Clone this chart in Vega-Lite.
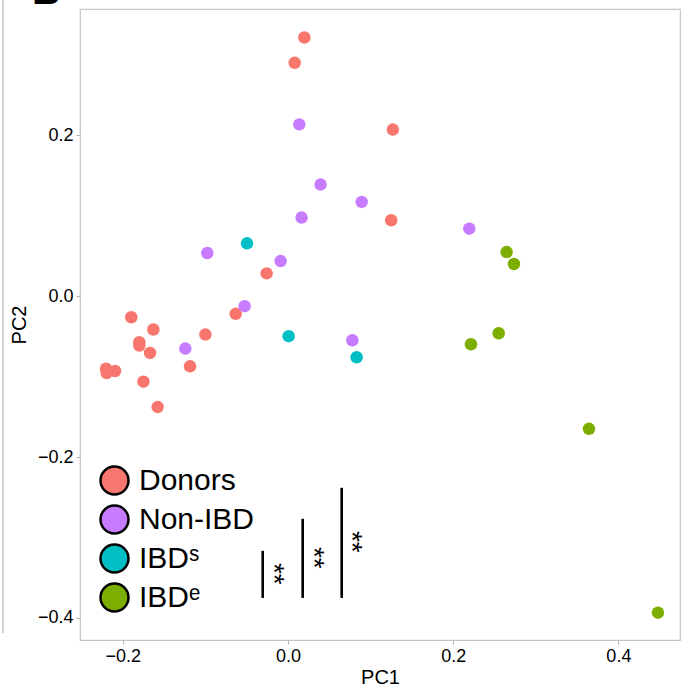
{
  "$schema": "https://vega.github.io/schema/vega-lite/v6.json",
  "width": 600,
  "height": 631,
  "autosize": {"type": "none"},
  "padding": {"left": 80, "top": 9, "right": 4, "bottom": 48},
  "background": "white",
  "config": {
    "view": {"stroke": "#c4c4c4", "strokeWidth": 1.2},
    "font": "Liberation Sans",
    "axis": {
      "domain": false,
      "grid": false,
      "tickColor": "#b0b0b0",
      "tickSize": 4,
      "labelColor": "black",
      "labelFontSize": 18,
      "labelFont": "Liberation Sans",
      "titleFont": "Liberation Sans",
      "titleFontSize": 20,
      "titleFontWeight": "normal",
      "titleColor": "black"
    }
  },
  "datasets": {
    "points": [
      {"group": "Donors", "PC1": 0.0198, "PC2": 0.3215},
      {"group": "Donors", "PC1": 0.0081, "PC2": 0.290},
      {"group": "Donors", "PC1": 0.127, "PC2": 0.207},
      {"group": "Donors", "PC1": 0.125, "PC2": 0.0943},
      {"group": "Donors", "PC1": -0.0258, "PC2": 0.0283},
      {"group": "Donors", "PC1": -0.0633, "PC2": -0.0220},
      {"group": "Donors", "PC1": -0.1897, "PC2": -0.0262},
      {"group": "Donors", "PC1": -0.163, "PC2": -0.0415},
      {"group": "Donors", "PC1": -0.100, "PC2": -0.0477},
      {"group": "Donors", "PC1": -0.180, "PC2": -0.0573},
      {"group": "Donors", "PC1": -0.180, "PC2": -0.0615},
      {"group": "Donors", "PC1": -0.167, "PC2": -0.0706},
      {"group": "Donors", "PC1": -0.1186, "PC2": -0.0872},
      {"group": "Donors", "PC1": -0.2203, "PC2": -0.0901},
      {"group": "Donors", "PC1": -0.2195, "PC2": -0.0955},
      {"group": "Donors", "PC1": -0.2094, "PC2": -0.0930},
      {"group": "Donors", "PC1": -0.175, "PC2": -0.1063},
      {"group": "Donors", "PC1": -0.1578, "PC2": -0.1379},
      {"group": "Non-IBD", "PC1": 0.0137, "PC2": 0.2135},
      {"group": "Non-IBD", "PC1": 0.0395, "PC2": 0.1387},
      {"group": "Non-IBD", "PC1": 0.0892, "PC2": 0.1171},
      {"group": "Non-IBD", "PC1": 0.0165, "PC2": 0.0976},
      {"group": "Non-IBD", "PC1": 0.2195, "PC2": 0.0839},
      {"group": "Non-IBD", "PC1": -0.0977, "PC2": 0.0536},
      {"group": "Non-IBD", "PC1": -0.0089, "PC2": 0.0436},
      {"group": "Non-IBD", "PC1": -0.0525, "PC2": -0.0125},
      {"group": "Non-IBD", "PC1": -0.1243, "PC2": -0.0652},
      {"group": "Non-IBD", "PC1": 0.0779, "PC2": -0.0548},
      {"group": "IBDs", "PC1": -0.0496, "PC2": 0.0656},
      {"group": "IBDs", "PC1": 0.0008, "PC2": -0.0498},
      {"group": "IBDs", "PC1": 0.0831, "PC2": -0.0760},
      {"group": "IBDe", "PC1": 0.2215, "PC2": -0.0598},
      {"group": "IBDe", "PC1": 0.2647, "PC2": 0.0548},
      {"group": "IBDe", "PC1": 0.2736, "PC2": 0.0399},
      {"group": "IBDe", "PC1": 0.2551, "PC2": -0.0461},
      {"group": "IBDe", "PC1": 0.3644, "PC2": -0.1649},
      {"group": "IBDe", "PC1": 0.4479, "PC2": -0.3934}
    ],
    "bars": [
      {"PC1": -0.0306, "PC2": -0.3166, "PC2end": -0.3751},
      {"PC1": 0.0178, "PC2": -0.2768, "PC2end": -0.3751},
      {"PC1": 0.0650, "PC2": -0.2382, "PC2end": -0.3751}
    ],
    "stars": [
      {"PC1": -0.0185, "PC2": -0.3452, "label": "**"},
      {"PC1": 0.0299, "PC2": -0.3253, "label": "**"},
      {"PC1": 0.0758, "PC2": -0.3054, "label": "**"}
    ],
    "panelLetter": [
      {"PC1": -0.2925, "PC2": 0.3631, "label": "B"}
    ],
    "otherPanel": [
      {"PC1": -0.3451, "PC2": 0.40, "PC2end": -0.4187}
    ]
  },
  "layer": [
    {
      "data": {"name": "points"},
      "mark": {"type": "circle", "size": 156, "opacity": 1},
      "encoding": {
        "x": {
          "field": "PC1", "type": "quantitative", "title": "PC1",
          "scale": {"domain": [-0.2518, 0.4746], "nice": false, "zero": false},
          "axis": {"values": [-0.2, 0, 0.2, 0.4], "format": ".1f", "labelPadding": 3, "titlePadding": 2}
        },
        "y": {
          "field": "PC2", "type": "quantitative", "title": "PC2",
          "scale": {"domain": [-0.4274, 0.3569], "nice": false, "zero": false},
          "axis": {"values": [-0.4, -0.2, 0, 0.2], "format": ".1f", "labelPadding": 3, "titlePadding": 8}
        },
        "color": {
          "field": "group", "type": "nominal",
          "scale": {"domain": ["Donors", "Non-IBD", "IBDs", "IBDe"], "range": ["#F8766D", "#C77CFF", "#00BFC4", "#7CAE00"]},
          "legend": {
            "orient": "none", "legendX": 19, "legendY": 456, "title": null,
            "symbolType": "circle", "symbolSize": 784, "symbolStrokeColor": "black",
            "symbolStrokeWidth": 2.5, "symbolOpacity": 1,
            "labelFontSize": 30, "labelFont": "Liberation Sans", "labelColor": "black",
            "labelOffset": 9, "rowPadding": 0, "labelLimit": 300, "padding": 0,
            "labelExpr": "datum.label == 'IBDs' ? 'IBDˢ' : datum.label == 'IBDe' ? 'IBDᵉ' : datum.label"
          }
        }
      }
    },
    {
      "data": {"name": "bars"},
      "mark": {"type": "rule", "color": "black", "strokeWidth": 2.6},
      "encoding": {
        "x": {"field": "PC1", "type": "quantitative", "title": "PC1"},
        "y": {"field": "PC2", "type": "quantitative", "title": "PC2"},
        "y2": {"field": "PC2end"}
      }
    },
    {
      "data": {"name": "stars"},
      "mark": {"type": "text", "angle": 90, "fontSize": 28, "align": "center", "baseline": "middle", "color": "black", "font": "Liberation Sans"},
      "encoding": {
        "x": {"field": "PC1", "type": "quantitative", "title": "PC1"},
        "y": {"field": "PC2", "type": "quantitative", "title": "PC2"},
        "text": {"field": "label"}
      }
    },
    {
      "data": {"name": "panelLetter"},
      "mark": {"type": "text", "fontSize": 40, "fontWeight": "bold", "align": "center", "baseline": "alphabetic", "color": "black", "clip": false, "font": "Liberation Sans"},
      "encoding": {
        "x": {"field": "PC1", "type": "quantitative", "title": "PC1"},
        "y": {"field": "PC2", "type": "quantitative", "title": "PC2"},
        "text": {"field": "label"}
      }
    },
    {
      "data": {"name": "otherPanel"},
      "mark": {"type": "rule", "color": "#c4c4c4", "strokeWidth": 1.5, "clip": false},
      "encoding": {
        "x": {"field": "PC1", "type": "quantitative", "title": "PC1"},
        "y": {"field": "PC2", "type": "quantitative", "title": "PC2"},
        "y2": {"field": "PC2end"}
      }
    }
  ]
}
